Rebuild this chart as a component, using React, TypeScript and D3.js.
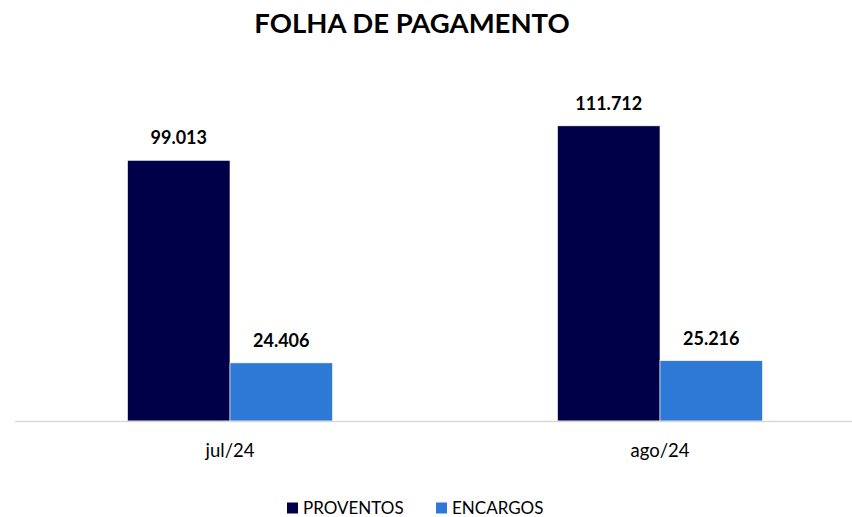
import React from "react";
import * as d3 from "d3";

const categories = ["jul/24", "ago/24"];
const seriesNames = ["PROVENTOS", "ENCARGOS"];
const proventos = [99013, 111712];
const encargos = [24406, 25216];
const seriesColors = ["#000048", "#2E78D6"];

const W = 852;
const H = 517;

const fmt = (v: number) => d3.format(",")(v).replace(/,/g, ".");

export default function App() {
  const baseY = 421;
  const x0 = d3.scaleBand<string>().domain(categories).range([15, 875]).padding(0);
  const bw = x0.bandwidth();
  const x1 = d3
    .scaleBand<string>()
    .domain(seriesNames)
    .range([bw / 2 - 102.5, bw / 2 + 102.5])
    .padding(0);
  const y = d3.scaleLinear().domain([3000, 140000]).range([baseY, baseY - 137000 * 0.002715]);

  const values = [proventos, encargos];
  const font = "Lato, 'Open Sans', sans-serif";

  return (
    <svg width={W} height={H} style={{ position: "absolute", left: 0, top: 0, background: "#fff" }}>
      <text
        x={412}
        y={33}
        textAnchor="middle"
        fontFamily={font}
        fontWeight={700}
        fontSize={27.5}
        fill="#000"
      >
        FOLHA DE PAGAMENTO
      </text>
      {categories.map((c, ci) => (
        <g key={c} transform={`translate(${x0(c)},0)`}>
          {seriesNames.map((s, si) => {
            const v = values[si][ci];
            const bx = x1(s)!;
            const top = y(v);
            return (
              <g key={s}>
                <rect
                  x={bx}
                  y={top}
                  width={x1.bandwidth()}
                  height={baseY - top}
                  fill={seriesColors[si]}
                  stroke="#ffffff"
                  strokeWidth={0.6}
                />
                <text
                  x={bx + x1.bandwidth() / 2}
                  y={top - 16}
                  textAnchor="middle"
                  fontFamily={font}
                  fontWeight={700}
                  fontSize={18}
                  fill="#000"
                >
                  {fmt(v)}
                </text>
              </g>
            );
          })}
          <text
            x={bw / 2}
            y={457}
            textAnchor="middle"
            fontFamily={font}
            fontSize={18.5}
            fill="#000"
          >
            {c}
          </text>
        </g>
      ))}
      <line x1={15} x2={W} y1={baseY + 0.5} y2={baseY + 0.5} stroke="#d9d9d9" strokeWidth={1.5} />
      {seriesNames.map((s, si) => {
        const lx = si === 0 ? 287 : 436;
        return (
          <g key={s}>
            <rect x={lx} y={502.5} width={11} height={11} fill={seriesColors[si]} />
            <text x={lx + 16} y={513.5} fontFamily={font} fontSize={17} fill="#000">
              {s}
            </text>
          </g>
        );
      })}
    </svg>
  );
}
